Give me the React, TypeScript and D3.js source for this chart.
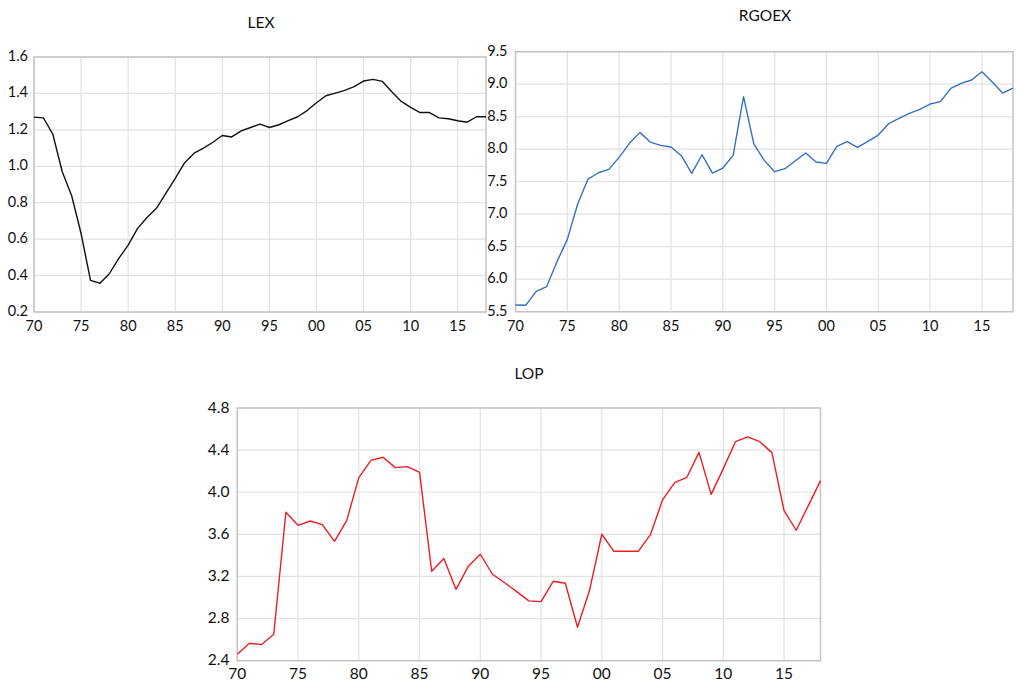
import React from "react";
import * as d3 from "d3";

const years: number[] = d3.range(1970, 2019);

const lexValues: number[] = [
  1.27, 1.266, 1.176, 0.97, 0.838, 0.631, 0.374, 0.358, 0.41, 0.494,
  0.567, 0.659, 0.719, 0.769, 0.851, 0.934, 1.02, 1.072, 1.1, 1.132,
  1.169, 1.161, 1.194, 1.213, 1.231, 1.213, 1.228, 1.251, 1.272, 1.306,
  1.349, 1.387, 1.402, 1.417, 1.437, 1.468, 1.477, 1.466, 1.409, 1.356,
  1.323, 1.295, 1.295, 1.266, 1.261, 1.25, 1.242, 1.272, 1.272,
];

const rgoexValues: number[] = [
  5.603, 5.6, 5.813, 5.885, 6.27, 6.613, 7.156, 7.541, 7.638, 7.69,
  7.874, 8.09, 8.259, 8.11, 8.059, 8.033, 7.9, 7.628, 7.915, 7.633,
  7.71, 7.905, 8.808, 8.079, 7.828, 7.654, 7.7, 7.823, 7.941, 7.803,
  7.782, 8.044, 8.115, 8.028, 8.12, 8.218, 8.392, 8.474, 8.551, 8.613,
  8.695, 8.731, 8.936, 9.013, 9.064, 9.192, 9.033, 8.864, 8.941,
];

const lopValues: number[] = [
  2.461, 2.566, 2.553, 2.651, 3.81, 3.686, 3.727, 3.692, 3.534, 3.73,
  4.139, 4.303, 4.332, 4.234, 4.243, 4.189, 3.249, 3.37, 3.078, 3.294,
  3.411, 3.221, 3.14, 3.056, 2.968, 2.961, 3.154, 3.135, 2.718, 3.072,
  3.601, 3.439, 3.439, 3.439, 3.597, 3.927, 4.091, 4.142, 4.379, 3.98,
  4.224, 4.48, 4.525, 4.48, 4.376, 3.825, 3.639, 3.873, 4.11,
];

const xTickYears: number[] = [1970, 1975, 1980, 1985, 1990, 1995, 2000, 2005, 2010, 2015];
const xTickLabels: string[] = ["70", "75", "80", "85", "90", "95", "00", "05", "10", "15"];

const lexTicks: number[] = [0.2, 0.4, 0.6, 0.8, 1.0, 1.2, 1.4, 1.6];
const rgoexTicks: number[] = [5.5, 6.0, 6.5, 7.0, 7.5, 8.0, 8.5, 9.0, 9.5];
const lopTicks: number[] = [2.4, 2.8, 3.2, 3.6, 4.0, 4.4, 4.8];

const FONT = "Lato, 'Open Sans', sans-serif";

type PanelProps = {
  title: string;
  values: number[];
  ticks: number[];
  color: string;
  left: number;
  right: number;
  top: number;
  bottom: number;
  titleX: number;
  titleY: number;
  labelRight: number;
  xLabelY: number;
  tickFont: number;
};

function Panel(p: PanelProps) {
  const x = d3.scaleLinear().domain([1970, 2018]).range([p.left, p.right]);
  const y = d3
    .scaleLinear()
    .domain([p.ticks[0], p.ticks[p.ticks.length - 1]])
    .range([p.bottom, p.top]);
  const line = d3
    .line<number>()
    .x((_, i) => x(years[i]))
    .y((d) => y(d));
  return (
    <g>
      <text
        x={p.titleX}
        y={p.titleY}
        textAnchor="middle"
        dominantBaseline="central"
        fontFamily={FONT}
        fontSize={15.5}
        fill="#111"
      >
        {p.title}
      </text>
      {p.ticks.map((t) => (
        <line
          key={"h" + t}
          x1={p.left}
          x2={p.right}
          y1={y(t)}
          y2={y(t)}
          stroke="#e2e2e2"
          strokeWidth={1.2}
        />
      ))}
      {xTickYears.map((t) => (
        <line
          key={"v" + t}
          x1={x(t)}
          x2={x(t)}
          y1={p.top}
          y2={p.bottom}
          stroke="#e2e2e2"
          strokeWidth={1.2}
        />
      ))}
      <rect
        x={p.left}
        y={p.top}
        width={p.right - p.left}
        height={p.bottom - p.top}
        fill="none"
        stroke="#c4c4c4"
        strokeWidth={1.5}
      />
      <path d={line(p.values) || ""} fill="none" stroke={p.color} strokeWidth={1.4} strokeLinejoin="round" />
      {p.ticks.map((t) => (
        <text
          key={"yl" + t}
          x={p.labelRight}
          y={y(t) - 1.5}
          textAnchor="end"
          dominantBaseline="central"
          fontFamily={FONT}
          fontSize={p.tickFont}
          fill="#111"
        >
          {t.toFixed(1)}
        </text>
      ))}
      {xTickYears.map((t, i) => (
        <text
          key={"xl" + t}
          x={x(t)}
          y={p.xLabelY}
          textAnchor="middle"
          dominantBaseline="central"
          fontFamily={FONT}
          fontSize={p.tickFont}
          fill="#111"
        >
          {xTickLabels[i]}
        </text>
      ))}
    </g>
  );
}

export default function App() {
  return (
    <svg
      width={1024}
      height={682}
      style={{ position: "absolute", left: 0, top: 0, background: "#fff" }}
    >
      <rect x={0} y={0} width={1024} height={682} fill="#fff" />
      <Panel
        title="LEX"
        values={lexValues}
        ticks={lexTicks}
        color="#111111"
        left={34}
        right={486}
        top={57}
        bottom={312}
        titleX={261}
        titleY={21.5}
        labelRight={28}
        xLabelY={325}
        tickFont={14.5}
      />
      <Panel
        title="RGOEX"
        values={rgoexValues}
        ticks={rgoexTicks}
        color="#3670c0"
        left={515.5}
        right={1013}
        top={51.7}
        bottom={311.7}
        titleX={765}
        titleY={15}
        labelRight={507.5}
        xLabelY={325}
        tickFont={14.5}
      />
      <Panel
        title="LOP"
        values={lopValues}
        ticks={lopTicks}
        color="#ee1c24"
        left={237.3}
        right={820.5}
        top={408}
        bottom={660.7}
        titleX={529}
        titleY={373}
        labelRight={229.5}
        xLabelY={673}
        tickFont={15.5}
      />
    </svg>
  );
}
